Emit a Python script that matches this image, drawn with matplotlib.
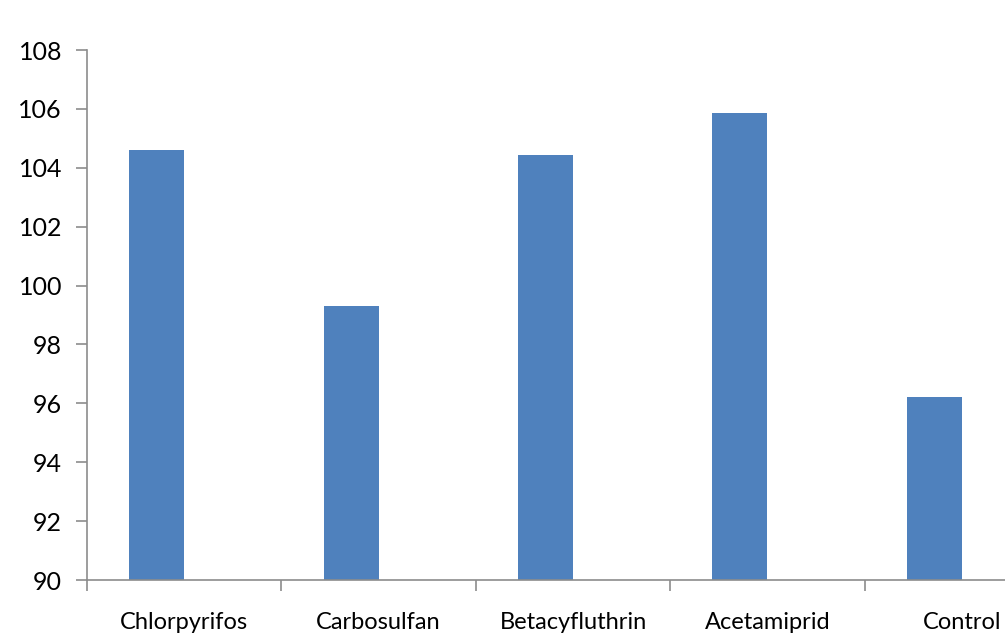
import matplotlib
matplotlib.use('Agg')
from matplotlib import pyplot as plt
import numpy as np

# insecticide treatments and measured values
treatments = ['Chlorpyrifos', 'Carbosulfan', 'Betacyfluthrin', 'Acetamiprid', 'Control']
values = [104.6, 99.3, 104.45, 105.85, 96.2]

plt.rcParams['font.family'] = ['Lato', 'DejaVu Sans']

fig = plt.figure(figsize=(10.05, 6.4), dpi=100)
# axes runs past the right edge of the figure, so the last label gets cut
ax = fig.add_axes([87 / 1005, 60 / 640, 972 / 1005, 530 / 640])

x = np.arange(len(treatments))
bar_w = 0.283
ax.bar(x, values, width=-bar_w, align='edge', color='#4F81BD', zorder=2)

ax.set_xlim(-0.5, len(treatments) - 0.5)
ax.set_ylim(90, 108)
ax.set_yticks(np.arange(90, 109, 2))

# category ticks sit between the groups
ax.set_xticks(np.arange(-0.5, len(treatments), 1.0))
ax.set_xticklabels([])
ax.set_xticks(x, minor=True)
ax.set_xticklabels(treatments, minor=True)
ax.tick_params(axis='x', which='minor', length=0, pad=23, labelsize=17)
ax.tick_params(axis='x', which='major', length=8, width=1.2, color='#8c8c8c')
ax.tick_params(axis='y', length=8, width=1.2, color='#8c8c8c', pad=10, labelsize=18)

for s in ['top', 'right']:
    ax.spines[s].set_visible(False)
for s in ['left', 'bottom']:
    ax.spines[s].set_color('#8c8c8c')
    ax.spines[s].set_linewidth(1.2)

fig.savefig('out.png', dpi=100)
